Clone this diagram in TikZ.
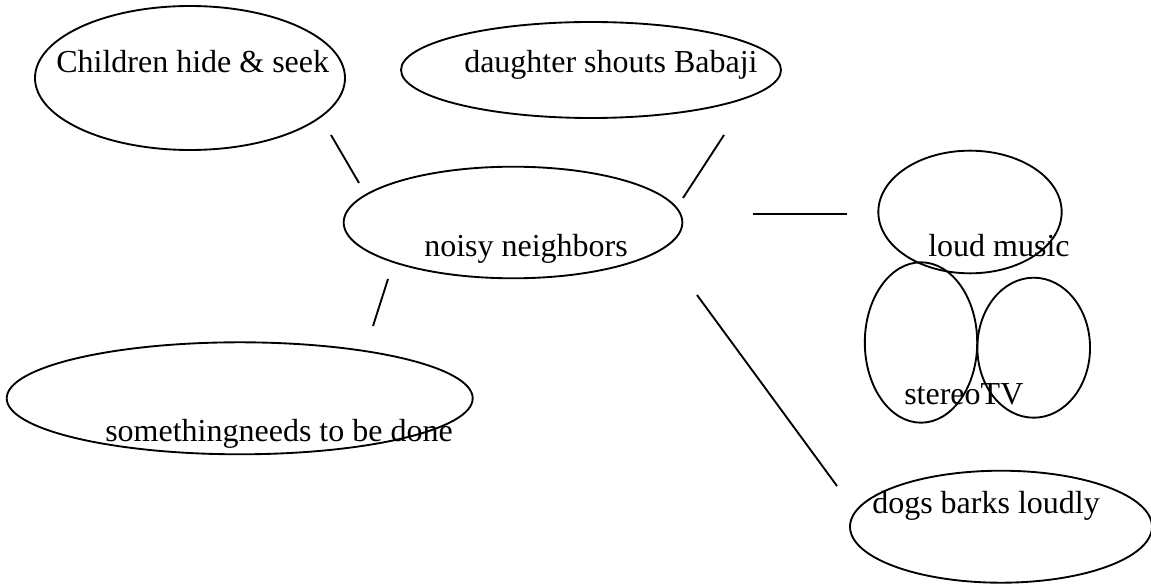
\documentclass[tikz,border=0pt]{standalone}
\usepackage{fontspec}
\setmainfont{Liberation Serif}
\usetikzlibrary{shapes.geometric}
\begin{document}
\begin{tikzpicture}[x=0.75pt,y=-0.75pt,
  bub/.style={ellipse, draw, line width=1.4pt, inner sep=0pt, outer sep=0pt},
  lbl/.style={anchor=base west, inner sep=0pt, font=\fontsize{24}{28}\selectfont},
  link/.style={line width=1.4pt}]
\useasboundingbox (0,0) rectangle (1151,584);
% ellipses
\node[bub, minimum width=232.5pt, minimum height=108pt] (children) at (190,78) {};
\node[bub, minimum width=285pt, minimum height=72pt] (daughter) at (591,70) {};
\node[bub, minimum width=254pt, minimum height=83.7pt] (noisy) at (513,222.5) {};
\node[bub, minimum width=137.5pt, minimum height=92pt] (loud) at (970,212) {};
\node[bub, minimum width=84.3pt, minimum height=120.3pt] (stereo) at (921,342.5) {};
\node[bub, minimum width=84.5pt, minimum height=105pt] (tv) at (1033.7,347.7) {};
\node[bub, minimum width=349.5pt, minimum height=84pt] (something) at (239.7,398.3) {};
\node[bub, minimum width=226.5pt, minimum height=84pt] (dogs) at (1001,526.7) {};
% labels
\node[lbl] (tchildren) at (56,72.5) {Children hide \& seek};
\node[lbl] (tdaughter) at (464,72.5) {daughter shouts Babaji};
\node[lbl] (tnoisy) at (424,257) {noisy neighbors};
\node[lbl] (tloud) at (928,257) {loud music};
\node[lbl] (tstereo) at (904,404) {stereoTV};
\node[lbl] (tsomething) at (105,441) {somethingneeds to be done};
\node[lbl] (tdogs) at (872,513) {dogs barks loudly};
% connector end points
\coordinate (c1a) at (331,135); \coordinate (c1b) at (359,183);
\coordinate (c2a) at (724,135); \coordinate (c2b) at (683,198);
\coordinate (c3a) at (753,214); \coordinate (c3b) at (847,214);
\coordinate (c4a) at (388,279); \coordinate (c4b) at (373,326);
\coordinate (c5a) at (697,295); \coordinate (c5b) at (837,486);
\draw[link] (c1a) -- (c1b);
\draw[link] (c2a) -- (c2b);
\draw[link] (c3a) -- (c3b);
\draw[link] (c4a) -- (c4b);
\draw[link] (c5a) -- (c5b);
\end{tikzpicture}
\end{document}
